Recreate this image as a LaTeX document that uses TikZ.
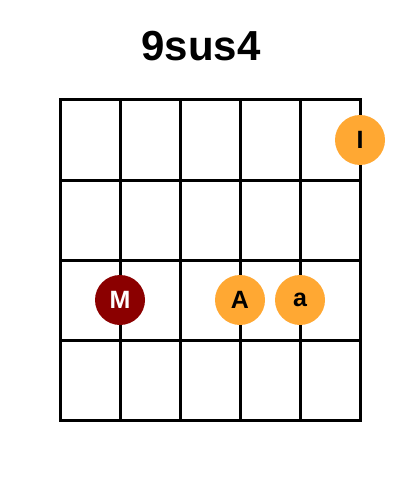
\documentclass[tikz,border=0pt]{standalone}
\usepackage{fontspec}
\setmainfont{Liberation Sans}
\usepackage{tikz}
\usetikzlibrary{positioning}
\definecolor{fingerorange}{RGB}{255,168,51}
\definecolor{rootred}{RGB}{139,0,0}

\begin{document}
\begin{tikzpicture}[x=1pt,y=-1pt,line width=3pt,
   finger/.style={circle,minimum size=50pt,inner sep=0pt,fill=fingerorange,text=black,font=\fontsize{25}{25}\selectfont\bfseries},
   root/.style={finger,fill=rootred,text=white}]
   \useasboundingbox (0,0) rectangle (400,500);
   \node[font=\fontsize{42}{42}\selectfont\bfseries] (title) at (201,46) {9sus4};
   \foreach \x in {60,120,...,360}
      \draw (\x,100) -- (\x,420);
   \foreach \y in {100,180,...,420}
      \draw[line cap=rect] (60,\y) -- (360,\y);
   \node[finger] (I) at (360,140) {I};
   \node[root] (M) at (120,300) {M};
   \node[finger] (A) at (240,300) {A};
   \node[finger] (a) [right=60pt of A.center,anchor=center] {a};
\end{tikzpicture}
\end{document}
